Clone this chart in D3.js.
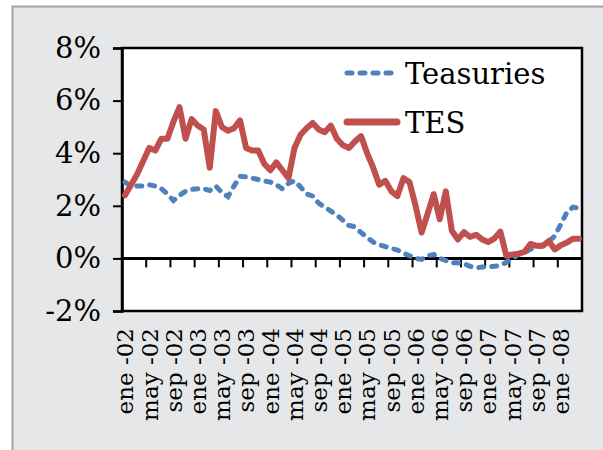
<!DOCTYPE html>
<html>
<head>
<meta charset="utf-8">
<script src="https://cdn.jsdelivr.net/npm/d3@7"></script>
<style>
  body { margin: 0; background: #fff; }
  svg { display: block; }
  text { font-family: "DejaVu Serif", serif; fill: #000; }
</style>
</head>
<body>
<div id="chart"></div>
<script>
// months ene-02 .. abr-08
var monthNames = ["ene", "feb", "mar", "abr", "may", "jun", "jul", "ago", "sep", "oct", "nov", "dic"];
var years = ["02", "03", "04", "05", "06", "07", "08"];
var months = [];
years.forEach(function (y) {
    monthNames.forEach(function (m) {
        months.push(m + " -" + y);
    });
});
months = months.slice(0, 76);

// yields in %
var treasuries = [
    2.9, 2.75, 2.75, 2.75, 2.8, 2.75, 2.65, 2.45, 2.2, 2.4, 2.55, 2.62,
    2.65, 2.65, 2.58, 2.75, 2.5, 2.35, 2.75, 3.12, 3.1, 3.05, 3.0, 2.95,
    2.9, 2.8, 2.65, 2.85, 2.95, 2.72, 2.45, 2.37, 2.1, 1.95, 1.8, 1.65,
    1.45, 1.25, 1.2, 0.98, 0.8, 0.62, 0.52, 0.45, 0.38, 0.32, 0.2, 0.1,
    0.0, -0.04, 0.1, 0.15, 0.0, -0.08, -0.17, -0.17, -0.2, -0.3, -0.36, -0.33,
    -0.32, -0.3, -0.27, -0.15, 0.0, 0.15, 0.22, 0.35, 0.42, 0.5, 0.65, 0.85,
    1.3, 1.75, 1.95, 1.9
];
var tes = [
    2.4, 2.8, 3.2, 3.7, 4.2, 4.1, 4.55, 4.55, 5.2, 5.75, 4.55, 5.3,
    5.05, 4.9, 3.45, 5.6, 5.0, 4.85, 4.95, 5.25, 4.2, 4.1, 4.1, 3.6,
    3.35, 3.65, 3.35, 3.05, 4.2, 4.7, 4.95, 5.15, 4.9, 4.8, 5.05, 4.55,
    4.3, 4.2, 4.45, 4.65, 4.0, 3.45, 2.8, 2.95, 2.55, 2.37, 3.05, 2.9,
    2.0, 0.98, 1.7, 2.44, 1.49, 2.55, 1.05, 0.72, 1.0, 0.82, 0.9, 0.72,
    0.62, 0.75, 1.02, 0.1, 0.15, 0.18, 0.25, 0.55, 0.48, 0.48, 0.66, 0.34,
    0.5, 0.6, 0.75, 0.75
];
var yTicks = [-2, 0, 2, 4, 6, 8];
var seriesNames = ["Teasuries", "TES"];

var width = 603, height = 450;
var plot = { left: 122, top: 48, right: 582, bottom: 311 };

var svg = d3.select("#chart").append("svg")
    .attr("width", width)
    .attr("height", height);

// gray panel
svg.append("rect")
    .attr("x", 12.5).attr("y", 6.5)
    .attr("width", 620).attr("height", 470)
    .attr("fill", "#e6e7e9")
    .attr("stroke", "#a3a3a3")
    .attr("stroke-width", 2);

var x = d3.scaleBand()
    .domain(months)
    .range([plot.left, plot.right])
    .paddingInner(0).paddingOuter(0);
var y = d3.scaleLinear()
    .domain([-2, 8])
    .range([plot.bottom, plot.top]);

svg.append("rect")
    .attr("x", plot.left).attr("y", plot.top)
    .attr("width", plot.right - plot.left)
    .attr("height", plot.bottom - plot.top)
    .attr("fill", "#fff")
    .attr("stroke", "#000")
    .attr("stroke-width", 2.5);

// y axis ticks + labels
var yAxis = d3.axisLeft(y)
    .tickValues(yTicks)
    .tickSize(9)
    .tickPadding(12)
    .tickFormat(function (d) { return d + "%"; });
var gy = svg.append("g")
    .attr("transform", "translate(" + plot.left + ",0)")
    .call(yAxis);
gy.select(".domain").attr("stroke", "#000").attr("stroke-width", 2.5);
gy.selectAll(".tick line").attr("stroke", "#000").attr("stroke-width", 2);
gy.selectAll(".tick text")
    .attr("font-family", "DejaVu Serif")
    .attr("font-size", 29)
    .attr("fill", "#000");

// x axis on the zero line, ticks between every 4 months
var labelMonths = months.filter(function (d, i) { return i % 4 === 0; });
var xAxis = d3.axisBottom(x)
    .tickValues(labelMonths)
    .tickSize(0)
    .tickPadding(0);
var gx = svg.append("g")
    .attr("transform", "translate(0," + y(0) + ")")
    .call(xAxis);
gx.select(".domain").remove();
gx.selectAll(".tick text").remove();

svg.append("g").selectAll("line")
    .data(labelMonths.slice(1))
    .enter().append("line")
    .attr("x1", function (d) { return x(d); })
    .attr("x2", function (d) { return x(d); })
    .attr("y1", y(0))
    .attr("y2", y(0) + 9)
    .attr("stroke", "#000")
    .attr("stroke-width", 2);

svg.append("line")
    .attr("x1", plot.left).attr("x2", plot.right)
    .attr("y1", y(0)).attr("y2", y(0))
    .attr("stroke", "#000")
    .attr("stroke-width", 3);

svg.append("g").selectAll("text")
    .data(labelMonths)
    .enter().append("text")
    .attr("transform", function (d) {
        return "translate(" + (x(d) + x.bandwidth() / 2) + "," + 328 + ") rotate(-90)";
    })
    .attr("text-anchor", "end")
    .attr("dy", "0.36em")
    .attr("font-size", 23)
    .text(function (d) { return d; });

// lines
var line = d3.line()
    .x(function (d, i) { return x(months[i]) + x.bandwidth() / 2; })
    .y(function (d) { return y(d); });

svg.append("path")
    .datum(treasuries)
    .attr("d", line)
    .attr("fill", "none")
    .attr("stroke", "#4f81bd")
    .attr("stroke-width", 5)
    .attr("stroke-linecap", "round")
    .attr("stroke-dasharray", "5,8");

svg.append("path")
    .datum(tes)
    .attr("d", line)
    .attr("fill", "none")
    .attr("stroke", "#c0504d")
    .attr("stroke-width", 6)
    .attr("stroke-linejoin", "round")
    .attr("stroke-linecap", "round");

// legend
var legend = svg.append("g");
legend.append("line")
    .attr("x1", 347).attr("x2", 397)
    .attr("y1", 73).attr("y2", 73)
    .attr("stroke", "#4f81bd")
    .attr("stroke-width", 5)
    .attr("stroke-linecap", "round")
    .attr("stroke-dasharray", "5,8");
legend.append("text")
    .attr("x", 405).attr("y", 84)
    .attr("font-size", 29)
    .text(seriesNames[0]);
legend.append("line")
    .attr("x1", 347).attr("x2", 397)
    .attr("y1", 122).attr("y2", 122)
    .attr("stroke", "#c0504d")
    .attr("stroke-width", 7)
    .attr("stroke-linecap", "round");
legend.append("text")
    .attr("x", 405).attr("y", 133)
    .attr("font-size", 29)
    .text(seriesNames[1]);
</script>
</body>
</html>
